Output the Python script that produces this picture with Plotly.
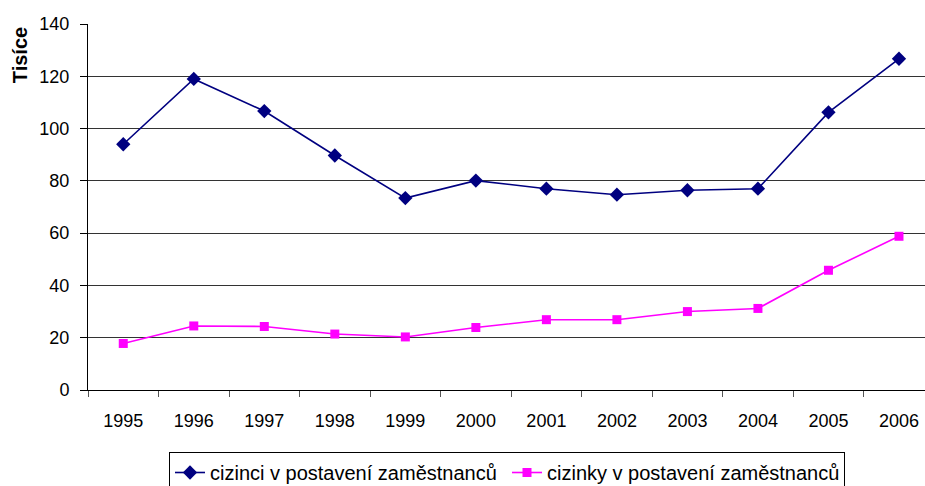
import plotly.graph_objects as go

years = ["1995", "1996", "1997", "1998", "1999", "2000",
         "2001", "2002", "2003", "2004", "2005", "2006"]
men = [94.0, 119.0, 106.7, 89.7, 73.4, 80.1, 77.0, 74.7, 76.4, 77.0, 106.2, 126.7]
women = [17.8, 24.5, 24.3, 21.4, 20.3, 23.9, 26.9, 26.9, 30.0, 31.2, 45.8, 58.8]
y_ticks = [0, 20, 40, 60, 80, 100, 120, 140]

W, H = 925, 486
L, R, T, B = 88, 0, 24, 96

FONT = "Liberation Sans, Arial, sans-serif"

fig = go.Figure()
fig.add_trace(go.Scatter(
    x=years, y=men, mode="lines+markers",
    name="cizinci v postavení zaměstnanců",
    line=dict(color="#000080", width=1.6),
    marker=dict(symbol="diamond", size=11, color="#000080"),
))
fig.add_trace(go.Scatter(
    x=years, y=women, mode="lines+markers",
    name="cizinky v postavení zaměstnanců",
    line=dict(color="#FF00FF", width=1.6),
    marker=dict(symbol="square", size=9, color="#FF00FF"),
))

fig.update_layout(
    width=W, height=H,
    margin=dict(l=L, r=R, t=T, b=B, pad=0),
    paper_bgcolor="white", plot_bgcolor="white",
    font=dict(family=FONT, size=18, color="black"),
    showlegend=True,
    legend=dict(
        orientation="h",
        xref="container", yref="container",
        x=507 / W, xanchor="center",
        y=1 - 452 / H, yanchor="top",
        bordercolor="black", borderwidth=1,
        font=dict(family=FONT, size=20, color="black"),
        tracegroupgap=0,
        entrywidth=292, entrywidthmode="pixels",
    ),
    xaxis=dict(
        type="category",
        range=[-0.5, -0.5 + (W - L) / 70.52],
        showgrid=False,
        showline=True, linecolor="black", linewidth=1,
        ticks="outside", tickson="boundaries", ticklen=6,
        tickcolor="#555", tickwidth=1,
        ticklabelstandoff=14,
        tickfont=dict(size=18),
        zeroline=False,
    ),
    yaxis=dict(
        range=[0, 140],
        tickvals=y_ticks,
        showgrid=True, gridcolor="#333", gridwidth=1,
        showline=True, linecolor="black", linewidth=1,
        ticks="outside", ticklen=7, tickcolor="black",
        ticklabelstandoff=7,
        tickfont=dict(size=18),
        zeroline=False,
    ),
    annotations=[dict(
        text="<b>Tisíce</b>", textangle=-90,
        xref="paper", yref="paper",
        x=(19.5 - L) / (W - L - R), y=(390.3 - 56) / 366,
        xanchor="center", yanchor="middle",
        showarrow=False, font=dict(family=FONT, size=20, color="black"),
    )],
)

fig.write_html("out.html")
